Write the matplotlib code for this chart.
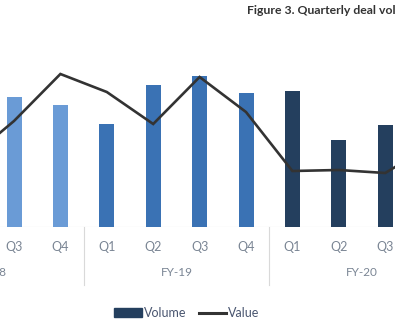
import numpy as np
import matplotlib
matplotlib.use('Agg')
import matplotlib.pyplot as plt
from matplotlib.patches import Patch
from matplotlib.lines import Line2D

plt.rcParams['font.family'] = ['Lato', 'DejaVu Sans']

# quarters FY-18 .. FY-20 (only part of the chart is visible)
quarters = ['Q1', 'Q2', 'Q3', 'Q4', 'Q1', 'Q2', 'Q3', 'Q4', 'Q1', 'Q2', 'Q3', 'Q4']
years = ['FY-18', 'FY-19', 'FY-20']
volume = [np.nan, np.nan, 130, 122, 103, 142, 151, 134, 136, 87, 102, np.nan]
value = [np.nan, 67, 106, 153, 135, 103, 150, 115, 56, 57, 54, 82]

year_colors = ['#6a9bd6', '#3a72b4', '#243f5e']
line_color = '#333333'
tick_color = '#7a8594'
legend_color = '#4a5670'

W, H = 395, 330
fig = plt.figure(figsize=(W / 100, H / 100), dpi=100)

# pixel layout of the crop
base_px = 227
x0_px, step_px = 14, 46.4      # centre of Q3 FY-18 and spacing
ax = fig.add_axes([0, (H - base_px) / H, 1, base_px / H])
xmin, xmax = 2 - x0_px / step_px, 2 + (W - x0_px) / step_px
ax.set_xlim(xmin, xmax)
ax.set_ylim(0, base_px)

ind = np.arange(len(quarters))
colors = [year_colors[i // 4] for i in ind]
vol = np.array(volume, dtype=float)
ax.bar(ind, np.nan_to_num(vol), 15 / step_px, color=colors, zorder=2)
ax.plot(ind, value, color=line_color, lw=1.9, zorder=3, solid_joinstyle='miter')

for s in ax.spines.values():
    s.set_visible(False)
ax.set_xticks([])
ax.set_yticks([])

# category axis drawn by hand below the plot area
ax.axhline(0, color='#d9d9d9', lw=0.8, zorder=1)
for i, q in enumerate(quarters):
    if xmin < i < xmax:
        ax.text(i, -20, q, ha='center', va='center', fontsize=9,
                color=tick_color, clip_on=False)
for g, yr in enumerate(years):
    ax.text(g * 4 + 1.5, -46, yr, ha='center', va='center', fontsize=8.5,
            color=tick_color, clip_on=False)
for sep in [3.5, 7.5]:
    ax.plot([sep, sep], [0, -58], color='#d9d9d9', lw=0.8, clip_on=False)

fig.text(247 / W, 1 - 10 / H, 'Figure 3. Quarterly deal volume and value',
         ha='left', va='center', fontsize=8.8, fontweight='bold', color='#333333')

handles = [Patch(color=year_colors[2]), Line2D([], [], color=line_color, lw=2.2)]
fig.legend(handles, ['Volume', 'Value'], loc='center', ncol=2,
           bbox_to_anchor=(187 / W, 1 - 313 / H), frameon=False,
           fontsize=9, labelcolor=legend_color, handlelength=2.2,
           handletextpad=0.15, columnspacing=1.0, handleheight=0.7)

fig.savefig('out.png', dpi=100)
